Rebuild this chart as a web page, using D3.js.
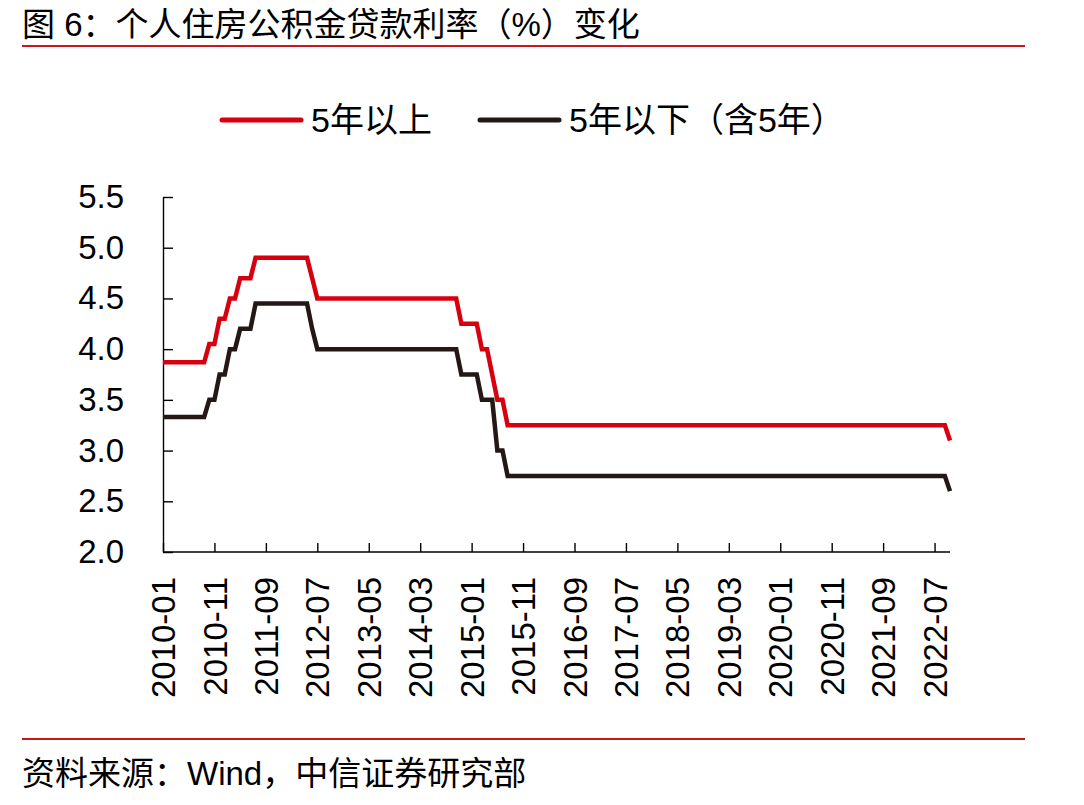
<!DOCTYPE html>
<html>
<head>
<meta charset="utf-8">
<script src="https://cdn.jsdelivr.net/npm/d3@7"></script>
<style>
    body { margin: 0; background: #fff; }
    svg text { font-family: 'Liberation Sans', Arial, 'Noto Sans CJK SC', sans-serif; fill: #000; }
</style>
</head>
<body>
<div id="chart"></div>
<script>
// monthly series, 2010-01 .. 2022-10
const months = d3.timeMonth.range(new Date(2010, 0, 1), new Date(2022, 10, 1)).map(d3.timeFormat('%Y-%m'));

const over5 = [
    3.87, 3.87, 3.87, 3.87, 3.87, 3.87, 3.87, 3.87, 3.87, 4.05,
    4.05, 4.30, 4.30, 4.50, 4.50, 4.70, 4.70, 4.70, 4.90, 4.90,
    4.90, 4.90, 4.90, 4.90, 4.90, 4.90, 4.90, 4.90, 4.90, 4.70,
    4.50, 4.50, 4.50, 4.50, 4.50, 4.50, 4.50, 4.50, 4.50, 4.50,
    4.50, 4.50, 4.50, 4.50, 4.50, 4.50, 4.50, 4.50, 4.50, 4.50,
    4.50, 4.50, 4.50, 4.50, 4.50, 4.50, 4.50, 4.50, 4.25, 4.25,
    4.25, 4.25, 4.00, 4.00, 3.75, 3.50, 3.50, 3.25, 3.25, 3.25,
    3.25, 3.25, 3.25, 3.25, 3.25, 3.25, 3.25, 3.25, 3.25, 3.25,
    3.25, 3.25, 3.25, 3.25, 3.25, 3.25, 3.25, 3.25, 3.25, 3.25,
    3.25, 3.25, 3.25, 3.25, 3.25, 3.25, 3.25, 3.25, 3.25, 3.25,
    3.25, 3.25, 3.25, 3.25, 3.25, 3.25, 3.25, 3.25, 3.25, 3.25,
    3.25, 3.25, 3.25, 3.25, 3.25, 3.25, 3.25, 3.25, 3.25, 3.25,
    3.25, 3.25, 3.25, 3.25, 3.25, 3.25, 3.25, 3.25, 3.25, 3.25,
    3.25, 3.25, 3.25, 3.25, 3.25, 3.25, 3.25, 3.25, 3.25, 3.25,
    3.25, 3.25, 3.25, 3.25, 3.25, 3.25, 3.25, 3.25, 3.25, 3.25,
    3.25, 3.25, 3.25, 3.10
];

const under5 = [
    3.33, 3.33, 3.33, 3.33, 3.33, 3.33, 3.33, 3.33, 3.33, 3.50,
    3.50, 3.75, 3.75, 4.00, 4.00, 4.20, 4.20, 4.20, 4.45, 4.45,
    4.45, 4.45, 4.45, 4.45, 4.45, 4.45, 4.45, 4.45, 4.45, 4.20,
    4.00, 4.00, 4.00, 4.00, 4.00, 4.00, 4.00, 4.00, 4.00, 4.00,
    4.00, 4.00, 4.00, 4.00, 4.00, 4.00, 4.00, 4.00, 4.00, 4.00,
    4.00, 4.00, 4.00, 4.00, 4.00, 4.00, 4.00, 4.00, 3.75, 3.75,
    3.75, 3.75, 3.50, 3.50, 3.50, 3.00, 3.00, 2.75, 2.75, 2.75,
    2.75, 2.75, 2.75, 2.75, 2.75, 2.75, 2.75, 2.75, 2.75, 2.75,
    2.75, 2.75, 2.75, 2.75, 2.75, 2.75, 2.75, 2.75, 2.75, 2.75,
    2.75, 2.75, 2.75, 2.75, 2.75, 2.75, 2.75, 2.75, 2.75, 2.75,
    2.75, 2.75, 2.75, 2.75, 2.75, 2.75, 2.75, 2.75, 2.75, 2.75,
    2.75, 2.75, 2.75, 2.75, 2.75, 2.75, 2.75, 2.75, 2.75, 2.75,
    2.75, 2.75, 2.75, 2.75, 2.75, 2.75, 2.75, 2.75, 2.75, 2.75,
    2.75, 2.75, 2.75, 2.75, 2.75, 2.75, 2.75, 2.75, 2.75, 2.75,
    2.75, 2.75, 2.75, 2.75, 2.75, 2.75, 2.75, 2.75, 2.75, 2.75,
    2.75, 2.75, 2.75, 2.60
];

const xTicks = ['2010-01', '2010-11', '2011-09', '2012-07', '2013-05', '2014-03', '2015-01', '2015-11',
    '2016-09', '2017-07', '2018-05', '2019-03', '2020-01', '2020-11', '2021-09', '2022-07'];
const yTicks = [2.0, 2.5, 3.0, 3.5, 4.0, 4.5, 5.0, 5.5];

const seriesNames = ['5年以上', '5年以下（含5年）'];
const colors = ['#d7000f', '#231815'];

const W = 1084, H = 805;
const svg = d3.select('#chart').append('svg')
    .attr('width', W)
    .attr('height', H);

// title + rules
svg.append('text')
    .attr('x', 22)
    .attr('y', 36)
    .style('font-size', '33px')
    .text('图 6：个人住房公积金贷款利率（%）变化');

svg.append('line')
    .attr('x1', 22).attr('x2', 1025)
    .attr('y1', 46).attr('y2', 46)
    .attr('stroke', '#c8161d')
    .attr('stroke-width', 2);

svg.append('line')
    .attr('x1', 22).attr('x2', 1025)
    .attr('y1', 739).attr('y2', 739)
    .attr('stroke', '#c8161d')
    .attr('stroke-width', 2);

svg.append('text')
    .attr('x', 22)
    .attr('y', 785)
    .style('font-size', '33px')
    .text('资料来源：Wind，中信证券研究部');

// scales
const x = d3.scalePoint()
    .domain(months)
    .range([163, 950]);

const y = d3.scaleLinear()
    .domain([2.0, 5.5])
    .range([552, 197]);

// axes
const xAxis = svg.append('g')
    .attr('transform', 'translate(0,552)')
    .call(d3.axisBottom(x)
        .tickValues(xTicks)
        .tickSizeInner(-9)
        .tickSizeOuter(0)
    );

xAxis.select('.domain')
    .attr('d', `M${x(months[0])},0H${x(months[months.length - 1])}`);

xAxis.selectAll('text')
    .attr('transform', 'rotate(-90)')
    .attr('x', -25)
    .attr('y', 0)
    .attr('dy', '0.35em')
    .style('text-anchor', 'end')
    .style('font-size', '33px');

const yAxis = svg.append('g')
    .attr('transform', 'translate(163,0)')
    .call(d3.axisLeft(y)
        .tickValues(yTicks)
        .tickFormat(d3.format('.1f'))
        .tickSizeInner(-10)
        .tickSizeOuter(0)
        .tickPadding(39)
    );

yAxis.selectAll('text')
    .style('font-size', '33px');

svg.selectAll('.domain, .tick line')
    .attr('stroke', '#000')
    .attr('stroke-width', 1.4);

// lines
const line = d3.line()
    .x((d, i) => x(months[i]))
    .y(d => y(d));

[over5, under5].forEach((s, k) => {
    svg.append('path')
        .datum(s)
        .attr('fill', 'none')
        .attr('stroke', colors[k])
        .attr('stroke-width', 4.5)
        .attr('stroke-linejoin', 'miter')
        .attr('d', line);
});

// legend
const legendX = [222, 480];
const legend = svg.append('g');
seriesNames.forEach((name, k) => {
    legend.append('line')
        .attr('x1', legendX[k]).attr('x2', legendX[k] + 79)
        .attr('y1', 120).attr('y2', 120)
        .attr('stroke', colors[k])
        .attr('stroke-width', 5)
        .attr('stroke-linecap', 'round');
    legend.append('text')
        .attr('x', legendX[k] + 89)
        .attr('y', 132)
        .style('font-size', '34px')
        .text(name);
});
</script>
</body>
</html>
